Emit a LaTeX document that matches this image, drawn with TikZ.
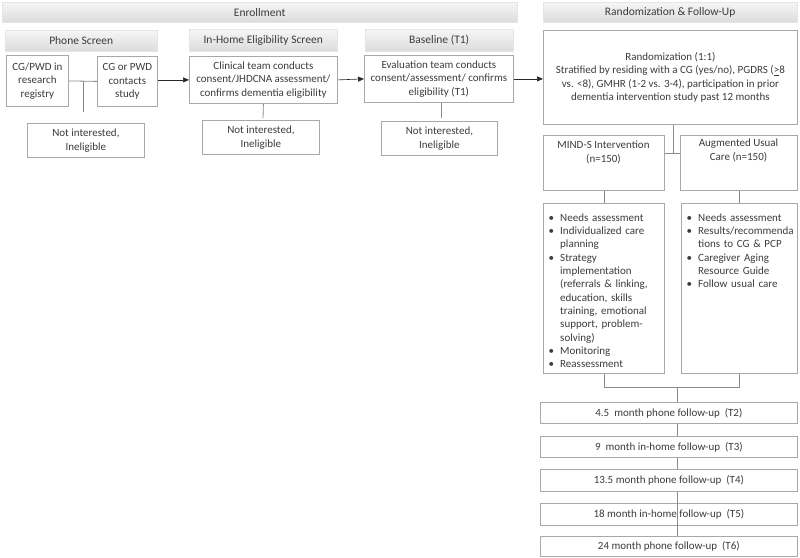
\documentclass[tikz,border=0pt]{standalone}
\usepackage{fontspec}
\setmainfont{Carlito}
\usepackage{enumitem}
\usetikzlibrary{arrows.meta}
\definecolor{txt}{HTML}{3C3C3C}
\definecolor{bord}{HTML}{A8A8A8}
\definecolor{ln}{HTML}{8A8A8A}
\newlist{blist}{itemize}{1}
\setlist[blist]{label=\textbullet,leftmargin=12pt,labelsep=6pt,itemsep=0pt,topsep=0pt,parsep=0pt,partopsep=0pt}
\begin{document}
\begin{tikzpicture}[x=1pt,y=-1pt,
  font=\fontsize{11}{13.6}\selectfont, text=txt,
  hdr/.style={draw=gray!20, top color=gray!7, bottom color=gray!28, inner sep=0pt, anchor=north west, align=center, font=\fontsize{11.5}{13.6}\selectfont},
  box/.style={draw=bord, line width=0.8pt, fill=white, inner sep=0pt, anchor=north west, align=center},
  lbl/.style={inner sep=0pt, align=center},
  lst/.style={inner sep=0pt, anchor=north west, align=left, font=\fontsize{11}{13.35}\selectfont},
  conn/.style={draw=ln, line width=0.8pt},
  arr/.style={draw=black!85, line width=0.6pt, -{Triangle[length=6pt,width=5pt]}}
]
\useasboundingbox[fill=white] (0,0) rectangle (800,557);

% headers
\node[hdr, minimum width=515, minimum height=20] (henr) at (2,2) {Enrollment};
\node[hdr, minimum width=254, minimum height=20] (hrand) at (543,2) {Randomization \& Follow-Up};
\node[hdr, minimum width=152, minimum height=21] (hphone) at (5,30) {Phone Screen};
\node[hdr, minimum width=148, minimum height=22] (hhome) at (189,29) {In-Home Eligibility Screen};
\node[hdr, minimum width=148, minimum height=22] (hbase) at (365,29) {Baseline (T1)};

% enrollment boxes
\node[box, minimum width=62, minimum height=51] (reg) at (6,55) {CG/PWD in\\research\\registry};
\node[box, minimum width=60, minimum height=50] (cont) at (97,56) {CG or PWD\\contacts\\study};
\node[box, minimum width=148, minimum height=47] (clin) at (189,56) {Clinical team conducts\\consent/JHDCNA assessment/\\confirms dementia eligibility};
\node[box, minimum width=149, minimum height=47] (eval) at (364,55) {Evaluation team conducts\\consent/assessment/ confirms\\eligibility (T1)};
\node[box, minimum width=117, minimum height=34] (ni1) at (27,123) {Not interested,\\Ineligible};
\node[box, minimum width=117, minimum height=34] (ni2) at (202,120) {Not interested,\\Ineligible};
\node[box, minimum width=116, minimum height=34] (ni3) at (381,121) {Not interested,\\Ineligible};

% randomization
\node[box, minimum width=254, minimum height=94] (rand) at (543,30) {Randomization (1:1)\\Stratified by residing with a CG (yes/no), PGDRS (\underline{>}8\\vs. <8), GMHR (1-2 vs. 3-4), participation in prior\\dementia intervention study past 12 months};

\node[box, minimum width=121, minimum height=55] (mind) at (543,135) {};
\node[lbl, anchor=north] (mindt) at (603.5,141) {MIND-S Intervention\\(n=150)};
\node[box, minimum width=117, minimum height=55] (aug) at (680,135) {};
\node[lbl, anchor=north] (augt) at (738.5,139) {Augmented Usual\\Care (n=150)};

\node[box, minimum width=121, minimum height=170] (mindl) at (543,203) {};
\node[lst, text width=114] (mindlt) at (548,207.5) {\begin{blist}
\item Needs assessment
\item Individualized care\newline planning
\item Strategy\newline implementation\newline (referrals \& linking,\newline education, skills\newline training, emotional\newline support, problem-\newline solving)
\item Monitoring
\item Reassessment
\end{blist}};
\node[box, minimum width=116, minimum height=170] (augl) at (681,203) {};
\node[lst, text width=110] (auglt) at (686,207.5) {\begin{blist}
\item Needs assessment
\item Results/recommenda\newline tions to CG \& PCP
\item Caregiver Aging\newline Resource Guide
\item Follow usual care
\end{blist}};

% follow-up boxes
\node[box, minimum width=257, minimum height=21] (t2) at (540,402) {4.5~ month phone follow-up~ (T2)};
\node[box, minimum width=257, minimum height=21] (t3) at (540,436) {9~ month in-home follow-up~ (T3)};
\node[box, minimum width=257, minimum height=22] (t4) at (540,469) {13.5 month phone follow-up~ (T4)};
\node[box, minimum width=257, minimum height=22] (t5) at (540,503) {18 month in-home follow-up~ (T5)};
\node[box, minimum width=257, minimum height=20] (t6) at (540,536) {24 month phone follow-up~ (T6)};

% connectors enrollment
\coordinate (j1) at (83,112);
\draw[conn] (reg.east) -- (cont.west);
\draw[conn] (reg.east -| j1) -- (j1);
\draw[arr] (cont.east |- clin.west) -- (clin.west);
\draw[arr] (clin.east) -- (eval.west);
\draw[arr] (eval.east) -- (eval.east -| rand.west);
\coordinate (j2) at (263,118);
\draw[conn] (clin.south) -- (j2);
\coordinate (j3) at (441,118);
\draw[conn] (eval.south -| j3) -- (j3);

% randomization connectors
\coordinate (jr) at (673,153);
\draw[conn] (rand.south -| jr) -- (jr);
\draw[conn] (mind.east |- jr) -- (aug.west |- jr);
\draw[conn] (mind.south) -- (mindl.north);
\draw[conn] (aug.south -| augl.north) -- (augl.north);
\coordinate (jb) at (677,387);
\draw[conn] (mindl.south) -- (mindl.south |- jb) -- (augl.south |- jb) -- (augl.south);
\draw[conn] (jb) -- (t2.north -| jb);
\draw[conn] (t2.south -| jb) -- (t3.north -| jb);
\draw[conn] (t3.south -| jb) -- (t4.north -| jb);
\draw[conn] (t4.south -| jb) -- (t6.north -| jb);
\end{tikzpicture}
\end{document}
